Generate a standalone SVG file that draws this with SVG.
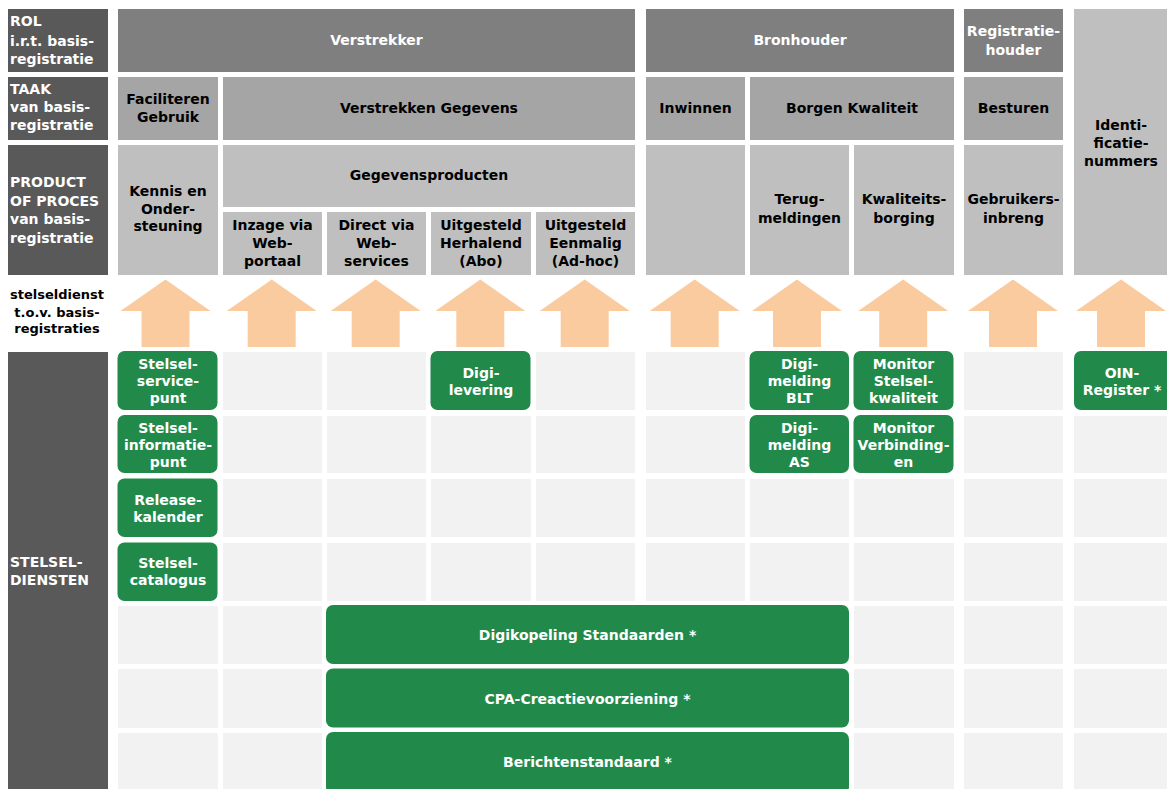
<svg xmlns="http://www.w3.org/2000/svg" width="1167" height="789" viewBox="0 0 1167 789">
<defs>
<style>
text{font-family:"DejaVu Sans","Liberation Sans",sans-serif;font-weight:bold;font-size:14px}
.w{fill:#ffffff}
.k{fill:#000000}
.c{text-anchor:middle}
.lab{fill:#595959}
.rol{fill:#7f7f7f}
.taak{fill:#a5a5a5}
.prod{fill:#bfbfbf}
.cell{fill:#f2f2f2}
.g{fill:#218a4a}
.arr{fill:#fbcba0}
.small{font-size:13px}
</style>
<path id="arrow" d="M0,0 L45,31.5 L24,31.5 L24,67.5 L-24,67.5 L-24,31.5 L-45,31.5 Z"/>
</defs>
<rect width="1167" height="789" fill="#ffffff"/>

<!-- left labels -->
<g id="label-rol"><rect class="lab" x="8" y="9" width="100" height="63"/>
<text class="w" x="10" y="26">ROL</text><text class="w" x="10" y="46">i.r.t. basis-</text><text class="w" x="10" y="64">registratie</text></g>
<g id="label-taak"><rect class="lab" x="8" y="77" width="100" height="63"/>
<text class="w" x="10" y="94">TAAK</text><text class="w" x="10" y="112">van basis-</text><text class="w" x="10" y="130">registratie</text></g>
<g id="label-product"><rect class="lab" x="8" y="145" width="100" height="130"/>
<text class="w" x="10" y="187">PRODUCT</text><text class="w" x="10" y="205.5">OF PROCES</text><text class="w" x="10" y="224">van basis-</text><text class="w" x="10" y="242.5">registratie</text></g>
<g id="label-stelseldienst">
<text class="k c small" x="57" y="299">stelseldienst</text><text class="k c small" x="57" y="316.5">t.o.v. basis-</text><text class="k c small" x="57" y="333">registraties</text></g>
<g id="label-stelseldiensten"><rect class="lab" x="8" y="352" width="100" height="440"/>
<text class="w" x="10" y="567">STELSEL-</text><text class="w" x="10" y="585">DIENSTEN</text></g>

<!-- ROL row -->
<g id="rol-verstrekker"><rect class="rol" x="118" y="9" width="517" height="63"/><text class="w c" x="376.5" y="45">Verstrekker</text></g>
<g id="rol-bronhouder"><rect class="rol" x="646" y="9" width="308" height="63"/><text class="w c" x="800" y="45">Bronhouder</text></g>
<g id="rol-registratiehouder"><rect class="rol" x="964" y="9" width="99" height="63"/><text class="w c" x="1013.5" y="36">Registratie-</text><text class="w c" x="1013.5" y="55">houder</text></g>
<g id="identificatienummers"><rect class="prod" x="1074" y="9" width="100" height="266"/><text class="k c" x="1121" y="130">Identi-</text><text class="k c" x="1121" y="148">ficatie-</text><text class="k c" x="1121" y="165.5">nummers</text></g>

<!-- TAAK row -->
<g id="taak-faciliteren"><rect class="taak" x="118" y="77" width="100" height="63"/><text class="k c" x="168" y="104">Faciliteren</text><text class="k c" x="168" y="122">Gebruik</text></g>
<g id="taak-verstrekken"><rect class="taak" x="223" y="77" width="412" height="63"/><text class="k c" x="429" y="113">Verstrekken Gegevens</text></g>
<g id="taak-inwinnen"><rect class="taak" x="646" y="77" width="99" height="63"/><text class="k c" x="695.5" y="113">Inwinnen</text></g>
<g id="taak-borgen"><rect class="taak" x="750" y="77" width="204" height="63"/><text class="k c" x="852" y="113">Borgen Kwaliteit</text></g>
<g id="taak-besturen"><rect class="taak" x="964" y="77" width="99" height="63"/><text class="k c" x="1013.5" y="113">Besturen</text></g>

<!-- PRODUCT row -->
<g id="prod-kennis"><rect class="prod" x="118" y="145" width="100" height="130"/><text class="k c" x="168" y="196">Kennis en</text><text class="k c" x="168" y="213.5">Onder-</text><text class="k c" x="168" y="231">steuning</text></g>
<g id="prod-gegevensproducten"><rect class="prod" x="223" y="145" width="412" height="62"/><text class="k c" x="429" y="180">Gegevensproducten</text></g>
<g id="prod-inzage"><rect class="prod" x="223" y="212" width="99" height="63"/><text class="k c" x="272.5" y="230">Inzage via</text><text class="k c" x="272.5" y="248">Web-</text><text class="k c" x="272.5" y="266">portaal</text></g>
<g id="prod-direct"><rect class="prod" x="327" y="212" width="99" height="63"/><text class="k c" x="376.5" y="230">Direct via</text><text class="k c" x="376.5" y="248">Web-</text><text class="k c" x="376.5" y="266">services</text></g>
<g id="prod-herhalend"><rect class="prod" x="431" y="212" width="100" height="63"/><text class="k c" x="481" y="230">Uitgesteld</text><text class="k c" x="481" y="248">Herhalend</text><text class="k c" x="481" y="266">(Abo)</text></g>
<g id="prod-eenmalig"><rect class="prod" x="536" y="212" width="99" height="63"/><text class="k c" x="585.5" y="230">Uitgesteld</text><text class="k c" x="585.5" y="248">Eenmalig</text><text class="k c" x="585.5" y="266">(Ad-hoc)</text></g>
<g id="prod-inwinnen"><rect class="prod" x="646" y="145" width="99" height="130"/></g>
<g id="prod-terugmeldingen"><rect class="prod" x="750" y="145" width="99" height="130"/><text class="k c" x="799.5" y="204">Terug-</text><text class="k c" x="799.5" y="222.5">meldingen</text></g>
<g id="prod-kwaliteitsborging"><rect class="prod" x="854" y="145" width="100" height="130"/><text class="k c" x="904" y="204">Kwaliteits-</text><text class="k c" x="904" y="222.5">borging</text></g>
<g id="prod-gebruikersinbreng"><rect class="prod" x="964" y="145" width="99" height="130"/><text class="k c" x="1013.5" y="204">Gebruikers-</text><text class="k c" x="1013.5" y="222.5">inbreng</text></g>

<!-- arrows -->
<g id="connectors" class="arr">
<use href="#arrow" x="165.5" y="279.5"/>
<use href="#arrow" x="271.7" y="279.5"/>
<use href="#arrow" x="375.7" y="279.5"/>
<use href="#arrow" x="480.3" y="279.5"/>
<use href="#arrow" x="584.7" y="279.5"/>
<use href="#arrow" x="694.7" y="279.5"/>
<use href="#arrow" x="797" y="279.5"/>
<use href="#arrow" x="903.2" y="279.5"/>
<use href="#arrow" x="1013" y="279.5"/>
<use href="#arrow" x="1121" y="279.5"/>
</g>

<!-- empty cells -->
<g id="cells" class="cell">
<rect x="223" y="352" width="99" height="58"/><rect x="327" y="352" width="99" height="58"/><rect x="536" y="352" width="99" height="58"/><rect x="646" y="352" width="99" height="58"/><rect x="964" y="352" width="99" height="58"/>
<rect x="223" y="416" width="99" height="57"/><rect x="327" y="416" width="99" height="57"/><rect x="431" y="416" width="100" height="57"/><rect x="536" y="416" width="99" height="57"/><rect x="646" y="416" width="99" height="57"/><rect x="964" y="416" width="99" height="57"/><rect x="1074" y="416" width="100" height="57"/>
<rect x="223" y="479" width="99" height="58"/><rect x="327" y="479" width="99" height="58"/><rect x="431" y="479" width="100" height="58"/><rect x="536" y="479" width="99" height="58"/><rect x="646" y="479" width="99" height="58"/><rect x="750" y="479" width="99" height="58"/><rect x="854" y="479" width="100" height="58"/><rect x="964" y="479" width="99" height="58"/><rect x="1074" y="479" width="100" height="58"/>
<rect x="223" y="543" width="99" height="58"/><rect x="327" y="543" width="99" height="58"/><rect x="431" y="543" width="100" height="58"/><rect x="536" y="543" width="99" height="58"/><rect x="646" y="543" width="99" height="58"/><rect x="750" y="543" width="99" height="58"/><rect x="854" y="543" width="100" height="58"/><rect x="964" y="543" width="99" height="58"/><rect x="1074" y="543" width="100" height="58"/>
<rect x="118" y="606" width="100" height="58"/><rect x="223" y="606" width="99" height="58"/><rect x="854" y="606" width="100" height="58"/><rect x="964" y="606" width="99" height="58"/><rect x="1074" y="606" width="100" height="58"/>
<rect x="118" y="669" width="100" height="59"/><rect x="223" y="669" width="99" height="59"/><rect x="854" y="669" width="100" height="59"/><rect x="964" y="669" width="99" height="59"/><rect x="1074" y="669" width="100" height="59"/>
<rect x="118" y="733" width="100" height="60"/><rect x="223" y="733" width="99" height="60"/><rect x="854" y="733" width="100" height="60"/><rect x="964" y="733" width="99" height="60"/><rect x="1074" y="733" width="100" height="60"/>
</g>

<!-- green services -->
<g id="svc-stelselservicepunt"><rect class="g" x="117.5" y="351" width="100" height="59" rx="7"/><text class="w c" x="168" y="369">Stelsel-</text><text class="w c" x="168" y="386">service-</text><text class="w c" x="168" y="403">punt</text></g>
<g id="svc-stelselinformatiepunt"><rect class="g" x="117.5" y="415" width="100" height="58" rx="7"/><text class="w c" x="168" y="433">Stelsel-</text><text class="w c" x="168" y="450">informatie-</text><text class="w c" x="168" y="467">punt</text></g>
<g id="svc-releasekalender"><rect class="g" x="117.5" y="478.5" width="100" height="58.5" rx="7"/><text class="w c" x="168" y="505">Release-</text><text class="w c" x="168" y="522">kalender</text></g>
<g id="svc-stelselcatalogus"><rect class="g" x="117.5" y="542.5" width="100" height="58.5" rx="7"/><text class="w c" x="168" y="568">Stelsel-</text><text class="w c" x="168" y="585">catalogus</text></g>
<g id="svc-digilevering"><rect class="g" x="430.5" y="351" width="100" height="59" rx="7"/><text class="w c" x="481" y="378">Digi-</text><text class="w c" x="481" y="394.5">levering</text></g>
<g id="svc-digimelding-blt"><rect class="g" x="749.5" y="351" width="99.5" height="59" rx="7"/><text class="w c" x="799.5" y="369">Digi-</text><text class="w c" x="799.5" y="386">melding</text><text class="w c" x="799.5" y="403">BLT</text></g>
<g id="svc-digimelding-as"><rect class="g" x="749.5" y="415" width="99.5" height="58" rx="7"/><text class="w c" x="799.5" y="433">Digi-</text><text class="w c" x="799.5" y="450">melding</text><text class="w c" x="799.5" y="467">AS</text></g>
<g id="svc-monitor-stelselkwaliteit"><rect class="g" x="853.5" y="351" width="100" height="59" rx="7"/><text class="w c" x="903.5" y="369">Monitor</text><text class="w c" x="903.5" y="386">Stelsel-</text><text class="w c" x="903.5" y="403">kwaliteit</text></g>
<g id="svc-monitor-verbindingen"><rect class="g" x="853.5" y="415" width="100" height="58" rx="7"/><text class="w c" x="903.5" y="433">Monitor</text><text class="w c" x="903.5" y="450">Verbinding-</text><text class="w c" x="903.5" y="467">en</text></g>
<g id="svc-oin-register"><rect class="g" x="1074" y="351" width="100" height="59" rx="7"/><text class="w c" x="1122" y="378">OIN-</text><text class="w c" x="1122" y="394.5">Register *</text></g>
<g id="svc-digikoppeling"><rect class="g" x="326" y="605" width="523" height="59" rx="7"/><text class="w c" x="587.5" y="640">Digikopeling Standaarden *</text></g>
<g id="svc-cpa"><rect class="g" x="326" y="668.5" width="523" height="59" rx="7"/><text class="w c" x="587.5" y="703.5">CPA-Creactievoorziening *</text></g>
<g id="svc-berichtenstandaard"><rect class="g" x="326" y="732" width="523" height="62" rx="7"/><text class="w c" x="587.5" y="766.5">Berichtenstandaard *</text></g>
</svg>
